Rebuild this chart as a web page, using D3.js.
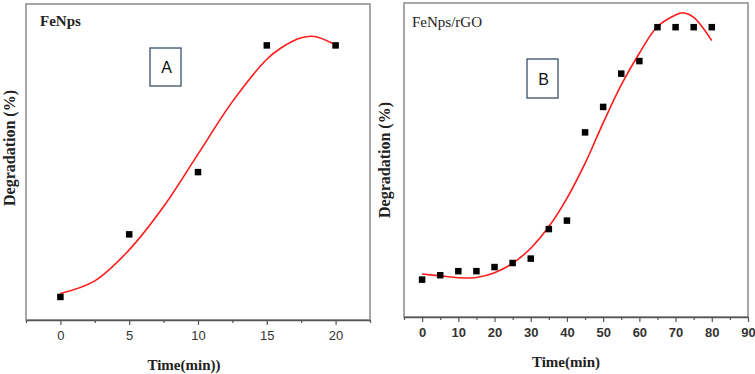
<!DOCTYPE html>
<head>
    <title>Degradation vs time, FeNps and FeNps/rGO</title>
    <script src='https://cdnjs.cloudflare.com/ajax/libs/d3/7.8.5/d3.min.js'></script>
</head>
<style>
body {
  margin: 0;
  background: #fff;
}
.serif { font-family: 'Liberation Serif', 'Times New Roman', serif; }
.sans { font-family: 'Liberation Sans', Arial, sans-serif; }
</style>
<body>
    <svg></svg>
</body>

<script>

    // Panel A data (FeNps)
    var timeA = [0, 5, 10, 15, 20];
    var degA = [7.3, 27.1, 46.8, 86.9, 86.9];
    var fitTimeA = [0, 2.5, 5, 7.5, 10, 12.5, 15, 16, 17.5, 18.5, 20];
    var fitDegA = [8.4, 12.4, 22.2, 35.9, 52.5, 69.1, 82.5, 86, 89.3, 89.7, 87];
    var ticksA = [0, 5, 10, 15, 20];
    var minorTicksA = [-2.5, 2.5, 7.5, 12.5, 17.5, 22.5];

    // Panel B data (FeNps/rGO)
    var timeB = [0, 5, 10, 15, 20, 25, 30, 35, 40, 45, 50, 55, 60, 65, 70, 75, 80];
    var degB = [11.9, 13.3, 14.6, 14.6, 15.9, 17.2, 18.6, 28, 30.7, 58.8, 66.9, 77.5, 81.5, 92.3, 92.3, 92.3, 92.3];
    var fitTimeB = [0, 5, 10, 15, 20, 25, 30, 35, 40, 45, 50, 55, 60, 65, 70, 72, 75, 80];
    var fitDegB = [13.7, 13.1, 12.5, 12.6, 14.1, 17.1, 21.9, 28.8, 37.8, 48.9, 61.8, 73.9, 84, 92.5, 96.2, 96.9, 95.4, 88];
    var ticksB = [0, 10, 20, 30, 40, 50, 60, 70, 80, 90];
    var minorTicksB = [-5, 5, 15, 25, 35, 45, 55, 65, 75, 85];

    var vWidth = 755;
    var vHeight = 374;

    var svg = d3.select('svg')
        .attr('width', vWidth)
        .attr('height', vHeight);

    var panels = [
        {
            x: d3.scaleLinear().domain([-2.5, 22.5]).range([26, 370]),
            y: d3.scaleLinear().domain([0, 100]).range([320, 4]),
            time: timeA, deg: degA, fitTime: fitTimeA, fitDeg: fitDegA,
            ticks: ticksA, minor: minorTicksA, tickBold: false,
            title: 'FeNps', titleBold: true, titleX: 40, titleY: 26,
            box: 'A', boxX: 150, boxY: 48, boxW: 31, boxH: 38,
            ylabelX: 14.5, ylabelY: 148,
            xlabel: 'Time(min))', xlabelX: 184, xlabelY: 370
        },
        {
            x: d3.scaleLinear().domain([-5, 90]).range([404, 748]),
            y: d3.scaleLinear().domain([0, 100]).range([317, 3]),
            time: timeB, deg: degB, fitTime: fitTimeB, fitDeg: fitDegB,
            ticks: ticksB, minor: minorTicksB, tickBold: true,
            title: 'FeNps/rGO', titleBold: false, titleX: 412, titleY: 27,
            box: 'B', boxX: 527, boxY: 59, boxW: 31, boxH: 39,
            ylabelX: 390, ylabelY: 160,
            xlabel: 'Time(min)', xlabelX: 566, xlabelY: 367
        }
    ];

    panels.forEach(function (p) {
        var g = svg.append('g');
        var x0 = p.x.range()[0], x1 = p.x.range()[1];
        var yb = p.y.range()[0], yt = p.y.range()[1];

        // Frame: light grey on top/right, darker axes on left/bottom
        g.append('rect')
            .attr('x', x0).attr('y', yt)
            .attr('width', x1 - x0).attr('height', yb - yt)
            .attr('fill', 'none')
            .attr('stroke', '#8a8a8a')
            .attr('stroke-width', 1.5);

        // Minor ticks
        g.append('g')
            .attr('transform', 'translate(0,' + yb + ')')
            .call(d3.axisBottom(p.x).tickValues(p.minor).tickSize(3).tickSizeOuter(0).tickFormat(''))
            .call(function (a) {
                a.select('.domain').remove();
                a.selectAll('line').attr('stroke', '#555').attr('stroke-width', 1.2);
            });

        // Major ticks and labels
        g.append('g')
            .attr('transform', 'translate(0,' + yb + ')')
            .call(d3.axisBottom(p.x).tickValues(p.ticks).tickSize(5).tickSizeOuter(0).tickPadding(6))
            .call(function (a) {
                a.select('.domain').attr('stroke', '#555').attr('stroke-width', 1.5);
                a.selectAll('line').attr('stroke', '#555').attr('stroke-width', 1.2);
                a.selectAll('text')
                    .attr('class', 'sans')
                    .attr('font-size', 13)
                    .attr('font-weight', p.tickBold ? 'bold' : 'normal')
                    .attr('fill', '#333');
            });

        // Fitted curve
        var line = d3.line()
            .x(function (d) { return p.x(d[0]); })
            .y(function (d) { return p.y(d[1]); })
            .curve(d3.curveCatmullRom.alpha(0.5));

        g.append('path')
            .datum(d3.zip(p.fitTime, p.fitDeg))
            .attr('d', line)
            .attr('fill', 'none')
            .attr('stroke', '#ff1a1a')
            .attr('stroke-width', 1.6);

        // Square markers
        var s = 6.5;
        g.selectAll('rect.pt')
            .data(d3.zip(p.time, p.deg))
            .enter().append('rect')
            .attr('class', 'pt')
            .attr('x', function (d) { return p.x(d[0]) - s / 2; })
            .attr('y', function (d) { return p.y(d[1]) - s / 2; })
            .attr('width', s).attr('height', s)
            .attr('fill', '#000');

        // Panel title
        g.append('text')
            .attr('class', 'serif')
            .attr('x', p.titleX).attr('y', p.titleY)
            .attr('font-size', 15)
            .attr('font-weight', p.titleBold ? 'bold' : 'normal')
            .attr('fill', '#222')
            .text(p.title);

        // Letter box
        g.append('rect')
            .attr('x', p.boxX).attr('y', p.boxY)
            .attr('width', p.boxW).attr('height', p.boxH)
            .attr('fill', '#fff')
            .attr('stroke', '#3a506b')
            .attr('stroke-width', 1.3);
        g.append('text')
            .attr('class', 'sans')
            .attr('x', p.boxX + p.boxW / 2 + 1).attr('y', p.boxY + p.boxH / 2 + 6)
            .attr('text-anchor', 'middle')
            .attr('font-size', 16)
            .attr('fill', '#111')
            .text(p.box);

        // Axis titles
        g.append('text')
            .attr('class', 'serif')
            .attr('transform', 'translate(' + p.ylabelX + ',' + p.ylabelY + ')rotate(-90)')
            .attr('text-anchor', 'middle')
            .attr('font-size', 16)
            .attr('font-weight', 'bold')
            .attr('fill', '#222')
            .text('Degradation (%)');

        g.append('text')
            .attr('class', 'serif')
            .attr('x', p.xlabelX).attr('y', p.xlabelY)
            .attr('text-anchor', 'middle')
            .attr('font-size', 15)
            .attr('font-weight', 'bold')
            .attr('fill', '#222')
            .text(p.xlabel);
    });

</script>
